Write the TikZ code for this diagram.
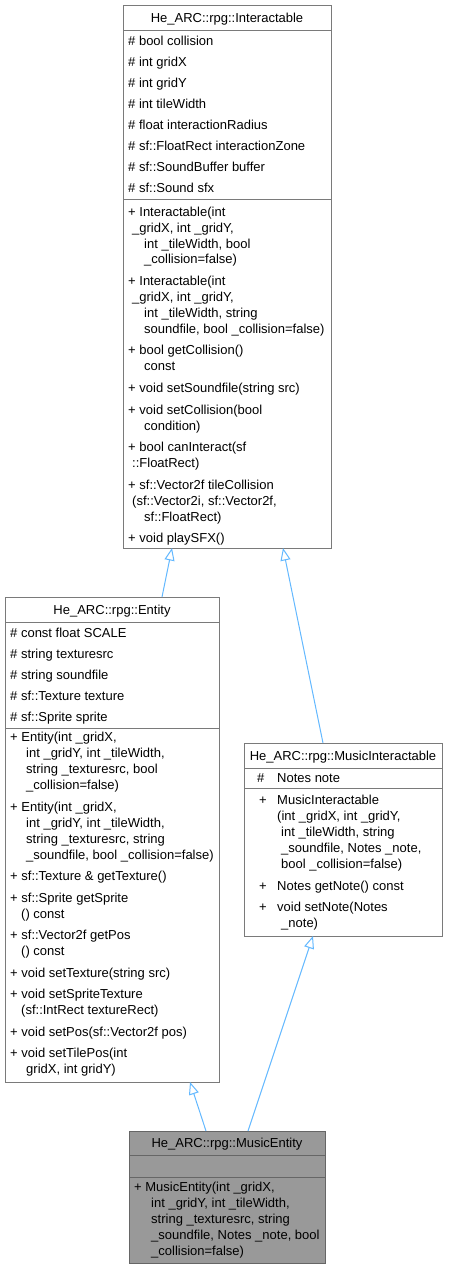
\documentclass[tikz,border=0pt]{standalone}
\usepackage{fontspec}
\setmainfont{Liberation Sans}
\usetikzlibrary{arrows.meta}
\definecolor{boxc}{HTML}{7A7A7A}
\definecolor{arrc}{HTML}{63B8FF}
\definecolor{mefill}{HTML}{999999}
\definecolor{meline}{HTML}{666666}
\begin{document}
\begin{tikzpicture}[x=1pt,y=-1pt,
  cls/.style={draw=boxc, fill=white, line width=1pt, inner sep=0pt, outer sep=0pt, rectangle},
  clsg/.style={cls, draw=meline, fill=mefill},
  sepl/.style={draw=boxc, line width=1pt},
  sepg/.style={draw=meline, line width=1pt},
  t/.style={anchor=west, inner sep=0pt, text height=10pt, text depth=1pt, font=\fontsize{13}{15}\selectfont},
  ttl/.style={t, anchor=center},
  inh/.style={draw=arrc, line width=1pt, -{Triangle[open, length=12.5pt, width=10pt]}},
]
\useasboundingbox (0,0) rectangle (448,1269);

% class boxes
\node[cls, minimum width=208pt, minimum height=543pt] (inter) at (227,276.5) {};
\node[cls, minimum width=214pt, minimum height=485pt] (entity) at (112,839.5) {};
\node[cls, minimum width=198pt, minimum height=193pt] (mi) at (343,839.5) {};
\node[clsg, minimum width=196pt, minimum height=132pt] (me) at (227,1197) {};

% separators
\draw[sepl] ([yshift=-25pt]inter.north west) -- ([yshift=-25pt]inter.north east);
\draw[sepl] ([yshift=-194pt]inter.north west) -- ([yshift=-194pt]inter.north east);
\draw[sepl] ([yshift=-25pt]entity.north west) -- ([yshift=-25pt]entity.north east);
\draw[sepl] ([yshift=-131pt]entity.north west) -- ([yshift=-131pt]entity.north east);
\draw[sepl] ([yshift=-25pt]mi.north west) -- ([yshift=-25pt]mi.north east);
\draw[sepl] ([yshift=-45pt]mi.north west) -- ([yshift=-45pt]mi.north east);
\draw[sepg] ([yshift=-24pt]me.north west) -- ([yshift=-24pt]me.north east);
\draw[sepg] ([yshift=-46pt]me.north west) -- ([yshift=-46pt]me.north east);

% titles
\node[ttl] (interT) at (227,18) {He\_ARC::rpg::Interactable};
\node[ttl] (entityT) at (112,610) {He\_ARC::rpg::Entity};
\node[ttl] (miT) at (343,756) {He\_ARC::rpg::MusicInteractable};
\node[ttl] (meT) at (227,1143) {He\_ARC::rpg::MusicEntity};

% Interactable members
\foreach \y/\x/\s [count=\i] in {
 41/128/{\# bool collision},
 62/128/{\# int gridX},
 83/128/{\# int gridY},
 104/128/{\# int tileWidth},
 125/128/{\# float interactionRadius},
 146/128/{\# sf::FloatRect interactionZone},
 167/128/{\# sf::SoundBuffer buffer},
 188/128/{\# sf::Sound sfx},
 212/128/{+ Interactable(int},
 227.8/132/{\_gridX, int \_gridY,},
 243.6/144/{int \_tileWidth, bool},
 259.4/144/{\_collision=false)},
 281.2/128/{+ Interactable(int},
 297/132/{\_gridX, int \_gridY,},
 312.8/144/{int \_tileWidth, string},
 328.6/144/{soundfile, bool \_collision=false)},
 350.4/128/{+ bool getCollision()},
 366.2/144/{const},
 388/128/{+ void setSoundfile(string src)},
 409.8/128/{+ void setCollision(bool},
 425.6/144/{condition)},
 447.4/128/{+ bool canInteract(sf},
 463.2/132/{::FloatRect)},
 485/128/{+ sf::Vector2f tileCollision},
 500.8/132/{(sf::Vector2i, sf::Vector2f,},
 516.6/144/{sf::FloatRect)},
 538.4/128/{+ void playSFX()}}
 \node[t] (ia\i) at (\x,\y) {\s};

% Entity members
\foreach \y/\x/\s [count=\i] in {
 633/10/{\# const float SCALE},
 654/10/{\# string texturesrc},
 675/10/{\# string soundfile},
 696/10/{\# sf::Texture texture},
 717/10/{\# sf::Sprite sprite},
 737/10/{+ Entity(int \_gridX,},
 753/26/{int \_gridY, int \_tileWidth,},
 769/26/{string \_texturesrc, bool},
 785/26/{\_collision=false)},
 806.5/10/{+ Entity(int \_gridX,},
 822.5/26/{int \_gridY, int \_tileWidth,},
 838.5/26/{string \_texturesrc, string},
 854.5/26/{\_soundfile, bool \_collision=false)},
 876/10/{+ sf::Texture \& getTexture()},
 897.5/10/{+ sf::Sprite getSprite},
 913.5/21/{() const},
 935/10/{+ sf::Vector2f getPos},
 951/21/{() const},
 972.5/10/{+ void setTexture(string src)},
 994/10/{+ void setSpriteTexture},
 1010/21/{(sf::IntRect textureRect)},
 1031.5/10/{+ void setPos(sf::Vector2f pos)},
 1053/10/{+ void setTilePos(int},
 1069/26/{gridX, int gridY)}}
 \node[t] (en\i) at (\x,\y) {\s};

% MusicInteractable members
\foreach \y/\x/\s [count=\i] in {
 778/257/{\#},
 778/277/{Notes note},
 800/259/{+},
 800/277/{MusicInteractable},
 816/277/{(int \_gridX, int \_gridY,},
 832/281/{int \_tileWidth, string},
 848/281/{\_soundfile, Notes \_note,},
 864/281/{bool \_collision=false)},
 886/259/{+},
 886/277/{Notes getNote() const},
 907/259/{+},
 907/277/{void setNote(Notes},
 923/281/{\_note)}}
 \node[t] (mm\i) at (\x,\y) {\s};

% MusicEntity members
\foreach \y/\x/\s [count=\i] in {
 1187/134/{+ MusicEntity(int \_gridX,},
 1203/151/{int \_gridY, int \_tileWidth,},
 1219/151/{string \_texturesrc, string},
 1235/151/{\_soundfile, Notes \_note, bool},
 1251/151/{\_collision=false)}}
 \node[t] (me\i) at (\x,\y) {\s};

% inheritance connectors
\draw[inh] ([xshift=157pt]entity.north west) -- ([xshift=49pt]inter.south west);
\draw[inh] ([xshift=79pt]mi.north west) -- ([xshift=160pt]inter.south west);
\draw[inh] ([xshift=77pt]me.north west) -- ([xshift=185pt]entity.south west);
\draw[inh] ([xshift=119pt]me.north west) -- ([xshift=69pt]mi.south west);
\end{tikzpicture}
\end{document}
